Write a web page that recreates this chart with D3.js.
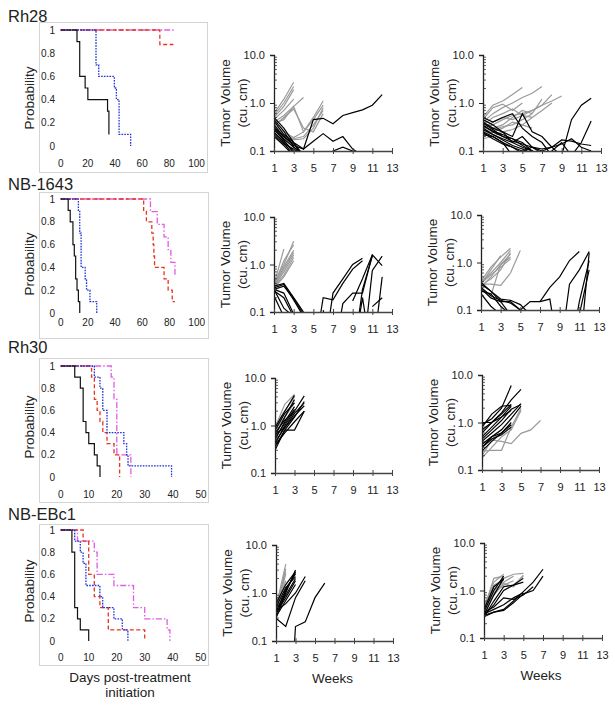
<!DOCTYPE html>
<html><head><meta charset="utf-8">
<script src="https://cdn.jsdelivr.net/npm/d3@7/dist/d3.min.js"></script>
<style>
body{margin:0;background:#fff}
text{font-family:"Liberation Sans",Arial,sans-serif;fill:#222}
</style>
</head><body>
<svg id="c" width="615" height="705"></svg>
<script>
// ---------------- DATA ----------------
// Kaplan-Meier step curves: [day, probability]
const km_rh28_magenta = [[0,1],[84,1]];
const km_rh28_red     = [[0,1],[73,0.875],[83,0.875]];
const km_rh28_blue    = [[0,1],[26,0.7],[28,0.6],[39.5,0.5],[41,0.4],[43,0.1],[51.5,0]];
const km_rh28_black   = [[0,1],[12,0.9],[14,0.6],[18,0.5],[20,0.4],[34.5,0.3],[35.5,0.1]];

const km_nb1643_magenta = [[0,1],[66,0.889],[71,0.778],[76,0.667],[79,0.556],[81,0.444],[84,0.333]];
const km_nb1643_red     = [[0,1],[61,0.9],[63,0.8],[67,0.7],[68,0.6],[68.5,0.5],[69,0.4],[76,0.3],[79,0.2],[82,0.1],[84,0.1]];
const km_nb1643_blue    = [[0,1],[13,0.9],[14,0.7],[15,0.4],[18,0.3],[19,0.2],[21.5,0.1],[26.5,0]];
const km_nb1643_black   = [[0,1],[5.5,0.9],[7,0.8],[9,0.6],[10,0.5],[11,0.3],[12,0.2],[13,0.1],[14,0]];

const km_rh30_magenta = [[0,1],[18,0.9],[19,0.7],[20,0.2],[25,0]];
const km_rh30_red     = [[0,1],[11,0.9],[12,0.7],[13,0.6],[14,0.5],[15,0.4],[16.5,0.3],[19,0.2],[21,0.1],[21,0]];
const km_rh30_blue    = [[0,1],[12,0.9],[14,0.8],[15,0.6],[16.5,0.4],[22.5,0.3],[23.5,0.2],[24,0.1],[39.5,0]];
const km_rh30_black   = [[0,1],[5,0.9],[7,0.8],[8,0.5],[9,0.4],[10,0.3],[12,0.2],[13,0.1],[14,0]];

const km_ebc1_magenta = [[0,1],[6,0.9],[12,0.8],[13,0.6],[19,0.5],[26,0.3],[30,0.2],[38,0.1],[39,0]];
const km_ebc1_red     = [[0,1],[8,0.9],[10,0.6],[12,0.4],[14,0.3],[17,0.1],[30,0]];
const km_ebc1_blue    = [[0,1],[5,0.9],[7,0.8],[8,0.7],[9,0.5],[14,0.4],[15,0.3],[19,0.2],[22,0.1],[24,0]];
const km_ebc1_black   = [[0,1],[4,0.8],[5,0.3],[6,0.2],[7,0.1],[10,0]];

const kmXTicks100 = [0,20,40,60,80,100];
const kmXTicks50  = [0,10,20,30,40,50];
const kmYTicks    = [0,0.2,0.4,0.6,0.8,1];

// Tumor volume (cu. cm) by week, starting at week 1 (null = no measurement)
const weekTicks = [1,3,5,7,9,11,13];
const volTicks  = [0.1,1,10];

const rh28_a_gray = [
 [0.6,1.2,2.7],[0.55,1.0,2.2],[0.5,0.85,1.9],[0.45,0.7,1.2],[0.4,0.55,0.85,1.3],
 [0.38,0.45,0.85,0.25,0.45,0.9],[0.3,0.22,0.18,0.2,0.35,0.7],[0.35,0.25,0.19,0.25,0.5,1.1],
 [0.28,0.2,0.17,0.18,0.3,0.8],[0.33,0.5,0.75,0.3,0.25,0.6]];
const rh28_a_black = [
 [0.5,0.3,0.15,0.08],[0.42,0.22,0.15,0.11,0.45,0.48,0.37,0.55,0.63,0.72,0.9,1.5],
 [0.35,0.2,0.14,0.08],[0.3,0.18,0.12,0.09],[0.28,0.17,0.09],[0.25,0.15,0.08],
 [0.22,0.14,0.11,0.08],[0.2,0.13,0.08],[0.32,0.2,0.13,0.11,0.16,0.23,0.16,0.2,0.11,0.08],
 [0.24,0.16,0.1,0.06,0.06,0.06,0.1,0.12,0.1],[0.45,0.26,0.12,0.08]];

const rh28_b_gray = [
 [0.5,0.9,1.1,1.5,2.1],[0.4,0.6,0.8,1.0,1.3,1.6,2.2],[0.3,0.35,0.45,0.55,0.6,0.7,0.9,1.1,1.4],
 [0.3,0.4,0.5,0.45,0.55,0.7,0.9,1.5],[0.25,0.3,0.35,0.5,0.7,0.6,1.2],[0.35,0.5,0.6,0.75,0.55,0.5],
 [0.2,0.25,0.3,0.4,0.35,0.5,0.7,1.0],[0.22,0.28,0.32,0.35,0.45,0.6],[0.18,0.2,0.25,0.28,0.35,0.3],
 [0.45,0.8,0.95,0.7,1.0]];
const rh28_b_black = [
 [0.5,0.4,0.5,0.6,0.3,0.2,0.15,0.08],[0.45,0.35,0.25,0.2,0.6,0.25,0.2,0.12,0.08],
 [0.4,0.3,0.25,0.15,0.2,0.12,0.09],[0.35,0.25,0.2,0.18,0.15,0.1,0.08],
 [0.3,0.22,0.18,0.15,0.12,0.1,0.08],[0.25,0.2,0.15,0.12,0.09],[0.22,0.2,0.15,0.08],
 [0.38,0.28,0.2,0.16,0.14,0.12,0.11,0.12,0.17,0.16,0.14,0.13],
 [0.33,0.26,0.22,0.18,0.13,0.1,0.08,0.08,0.08,0.45,0.9,1.25],
 [0.28,0.22,0.17,0.13,0.11,0.09,0.08,0.1,0.15,0.08,0.15,0.42],
 [0.24,0.18,0.14,0.12,0.1,0.12,0.1,0.12,0.14,0.18,0.12,0.1]];

const nb1643_a_gray = [
 [0.4,1.0,3.1],[0.38,2.1],[0.36,0.9,2.0],[0.35,0.8,1.8],[0.34,0.7,1.6],
 [0.33,0.6,1.4],[0.32,0.55,1.2],[0.37,1.2,2.6]];
const nb1643_a_black = [
 [0.35,0.4,0.2,0.1],[0.32,0.38,0.18,0.08],[0.3,0.35,0.19,0.09],[0.3,0.25,0.09],
 [0.28,0.2,0.08],[0.22,0.08],[0.3,0.12,0.08],
 [null,null,null,null,0.01,0.2,0.18,0.4,0.8,1.2],
 [null,null,null,null,null,0.01,0.25,0.5,1.0,1.35],
 [null,null,null,null,null,0.11,0.01,0.15,0.25,0.25,1.6],
 [null,null,null,null,null,null,null,null,0.01,0.3,1.5],
 [null,null,null,null,null,null,null,null,0.17,0.5,1.6,0.95],
 [null,null,null,null,null,null,null,null,null,0.01,0.75,1.5],
 [null,null,null,null,null,null,null,null,null,null,0.01,0.55],
 [null,null,null,null,null,null,null,null,null,null,0.13,0.2],
 [null,null,null,null,null,null,null,null,0.01,0.2,0.01]];

const nb1643_b_gray = [
 [0.4,0.8,1.3,2.0],[0.35,0.7,1.4],[0.38,0.6,1.0,1.8],[0.3,0.5,0.9,1.5],
 [0.35,0.35,0.33,0.6,1.8],[0.36,0.55,0.8,1.2],[0.33,0.45,0.7,1.6],[0.3,0.2,0.9,1.3]];
const nb1643_b_black = [
 [0.35,0.25,0.15,0.15,0.1],[0.3,0.2,0.16,0.14,0.1],[0.28,0.18,0.15,0.08],[0.25,0.22,0.12,0.08],
 [0.22,0.12,0.08],[0.38,0.25,0.17,0.16,0.13,0.08],
 [null,null,null,null,0.1,0.15,0.15,0.17,0.01],
 [null,null,null,null,null,null,0.15,0.3,0.5,1.1,1.7],
 [null,null,null,null,null,null,null,null,0.01,0.35,0.7,1.7],
 [null,null,null,null,null,null,null,null,null,0.01,0.15,1.1],
 [null,null,null,null,null,null,null,null,null,null,0.08,0.7],
 [null,null,null,null,null,null,null,null,null,null,0.01,1.6]];

const rh30_a_gray = [[0.9,2.8,4.5],[1.0,2.0,4.0],[0.8,1.5,3.0]];
const rh30_a_black = [
 [0.3,0.8,1.5,3.2],[0.35,0.8,0.8,2.0],[0.4,1.0,2.0,4.2],[0.5,1.2,2.5],[0.6,1.5,3.5],
 [0.7,1.3,2.0],[0.45,0.9,1.8,3.0],[0.55,1.1,2.2],[0.8,1.8,3.0],[0.65,0.9,1.6,2.6],
 [0.38,0.7,1.2,2.0],[0.9,2.0,4.3]];

const rh30_b_gray = [
 [0.2,0.43,0.4,0.36,0.59,0.7,1.1],[0.25,0.26,0.26,0.8,2.0],[0.18,0.3,0.5,0.7,1.8],
 [0.3,0.45,0.6,0.9],[0.35,0.5,0.7,1.2]];
const rh30_b_black = [
 [1.0,1.0,1.5,2.4],[0.9,1.2,2.0,6.0],[0.6,1.0,1.6,3.0,5.0],[0.5,0.8,1.3,2.2],
 [0.4,0.6,0.9,1.5,2.5],[0.35,0.5,0.7,1.2,2.2],[0.3,0.5,0.6,0.9],[0.25,0.4,0.6,1.0],
 [0.8,1.5,2.2,2.3],[0.7,1.0,1.3,1.8],[0.45,0.7,1.1,1.9,2.4],[0.3,0.45,0.55,0.8]];

const ebc1_a_gray = [[0.5,4.0],[0.45,3.2],[0.4,2.5],[0.5,1.8],[0.55,2.8]];
const ebc1_a_black = [
 [0.3,1.0,3.0],[0.35,1.1,2.7],[0.4,1.2,2.5],[0.45,0.9,2.0],[0.5,1.3,2.2],[0.38,0.8,1.8],
 [0.32,0.7,1.5],[0.6,1.5,2.8],[0.3,0.2,0.8,1.8],[0.42,0.6,1.0,2.2],
 [null,0.0001,0.2,0.25,0.8,1.6]];

const ebc1_b_gray = [
 [0.4,1.8,2.0],[0.45,1.5,2.2],[0.35,1.2,1.8,2.2,2.3],[0.5,1.0,1.5,2.0],[0.3,0.9,1.3,1.6],
 [0.4,1.1,1.2,1.3,2.0],[0.45,0.8,1.4,1.2,2.1],[0.38,1.3,1.7]];
const ebc1_b_black = [
 [0.3,0.8,1.8],[0.35,1.0,2.0],[0.4,1.2,1.7],[0.28,0.6,1.2,1.3,1.5],[0.3,0.5,1.0,1.3,1.8],
 [0.28,0.35,0.4,0.6,0.95,1.5,2.8],[0.3,0.35,0.38,0.55,0.85,1.0,2.0],
 [0.35,0.45,0.7,0.65,0.8,1.2],[0.32,0.4,0.5,0.7,0.9]];

// ---------------- DRAWING ----------------
const svg = d3.select("#c");
const kmStyle = {
  magenta:{stroke:"#e35be3", dash:"6,2,1.5,2", w:1.3},
  red:{stroke:"#e8341f", dash:"4,2.5", w:1.3},
  blue:{stroke:"#1f33d9", dash:"1.6,1.2", w:1.3},
  black:{stroke:"#111", dash:null, w:1.2}
};

const kmPanels = [
  {title:"Rh28", titleY:22, box:[39,22,207,172], xr:[60.7,196.5], yr:[30,146], xmax:100, xticks:kmXTicks100, labY:163, probY:98,
   curves:{magenta:km_rh28_magenta, red:km_rh28_red, blue:km_rh28_blue, black:km_rh28_black}},
  {title:"NB-1643", titleY:190, box:[39,192,208,338], xr:[60.7,196.7], yr:[199,313], xmax:100, xticks:kmXTicks100, labY:322, probY:264,
   curves:{magenta:km_nb1643_magenta, red:km_nb1643_red, blue:km_nb1643_blue, black:km_nb1643_black}},
  {title:"Rh30", titleY:353, box:[39,358,208,502], xr:[60.7,201], yr:[366,477], xmax:50, xticks:kmXTicks50, labY:494, probY:427,
   curves:{magenta:km_rh30_magenta, red:km_rh30_red, blue:km_rh30_blue, black:km_rh30_black}},
  {title:"NB-EBc1", titleY:520, box:[39,524,208,665], xr:[60.7,200.7], yr:[530,641], xmax:50, xticks:kmXTicks50, labY:657, probY:591,
   curves:{magenta:km_ebc1_magenta, red:km_ebc1_red, blue:km_ebc1_blue, black:km_ebc1_black}}
];

kmPanels.forEach(p => {
  const g = svg.append("g");
  g.append("rect").attr("x",p.box[0]+0.5).attr("y",p.box[1]+0.5)
    .attr("width",p.box[2]-p.box[0]).attr("height",p.box[3]-p.box[1])
    .attr("fill","none").attr("stroke","#d4d4d4").attr("stroke-width",1);
  g.append("text").attr("x",8).attr("y",p.titleY).attr("font-size",16.5).text(p.title);
  const x = d3.scaleLinear().domain([0,p.xmax]).range(p.xr);
  const y = d3.scaleLinear().domain([0,1]).range([p.yr[1],p.yr[0]]);
  g.selectAll(".yt").data(kmYTicks).enter().append("text")
    .attr("x",55).attr("y",d=>y(d)).attr("dy","0.35em").attr("text-anchor","end")
    .attr("font-size",10).text(d=>d3.format("")(d));
  g.selectAll(".xt").data(p.xticks).enter().append("text")
    .attr("x",d=>x(d)).attr("y",p.labY).attr("dy","0.35em").attr("text-anchor","middle")
    .attr("font-size",10).text(d=>d);
  g.append("text").attr("transform",`translate(29,${p.probY}) rotate(-90)`)
    .attr("text-anchor","middle").attr("dy","0.35em").attr("font-size",13.5).text("Probability");
  const line = d3.line().x(d=>x(d[0])).y(d=>y(d[1])).curve(d3.curveStepAfter);
  ["magenta","red","blue","black"].forEach(k => {
    const s = kmStyle[k];
    g.append("path").attr("d",line(p.curves[k])).attr("fill","none")
      .attr("stroke",s.stroke).attr("stroke-width",s.w)
      .attr("stroke-dasharray",s.dash);
  });
});

svg.append("text").attr("x",130).attr("y",677).attr("dy","0.35em").attr("text-anchor","middle")
  .attr("font-size",13.5).text("Days post-treatment");
svg.append("text").attr("x",130).attr("y",692).attr("dy","0.35em").attr("text-anchor","middle")
  .attr("font-size",13.5).text("initiation");

const volPanels = [
  {x:[274,392], y:[151,55],  gray:rh28_a_gray,   black:rh28_a_black},
  {x:[483,601], y:[151,55],  gray:rh28_b_gray,   black:rh28_b_black},
  {x:[274,392], y:[312,217], gray:nb1643_a_gray, black:nb1643_a_black},
  {x:[481,599], y:[310,215], gray:nb1643_b_gray, black:nb1643_b_black},
  {x:[275,392], y:[473,378], gray:rh30_a_gray,   black:rh30_a_black},
  {x:[482,599], y:[470,375], gray:rh30_b_gray,   black:rh30_b_black},
  {x:[276,393], y:[641,545], gray:ebc1_a_gray,   black:ebc1_a_black, weeks:true},
  {x:[484,602], y:[638,543], gray:ebc1_b_gray,   black:ebc1_b_black, weeks:true}
];

const minorTicks = [0.2,0.3,0.4,0.5,0.6,0.7,0.8,0.9,2,3,4,5,6,7,8,9];

volPanels.forEach((p,i) => {
  const g = svg.append("g");
  const x = d3.scaleLinear().domain([1,13]).range(p.x);
  const y = d3.scaleLog().domain([0.1,10]).range(p.y);
  const cid = "clip"+i;
  g.append("clipPath").attr("id",cid).append("rect")
    .attr("x",p.x[0]).attr("y",p.y[1]-5).attr("width",p.x[1]-p.x[0]+5).attr("height",p.y[0]-p.y[1]+5);
  const line = d3.line().defined(d=>d[1]!=null).x(d=>x(d[0])).y(d=>y(d[1]));
  const lg = g.append("g").attr("clip-path",`url(#${cid})`);
  const toPts = v => v.map((val,j)=>[j+1,val]);
  p.gray.forEach(s => lg.append("path").attr("d",line(toPts(s))).attr("fill","none")
    .attr("stroke","#9a9a9a").attr("stroke-width",1.2));
  p.black.forEach(s => lg.append("path").attr("d",line(toPts(s))).attr("fill","none")
    .attr("stroke","#000").attr("stroke-width",1.2));

  // y axis
  const ya = g.append("g").attr("transform",`translate(${p.x[0]},0)`)
    .call(d3.axisLeft(y).tickValues(volTicks).tickFormat(d3.format(".1f")).tickSize(4).tickPadding(5));
  ya.selectAll("text").attr("font-size",11).attr("fill","#222").attr("font-family","Liberation Sans, Arial, sans-serif");
  ya.select(".domain").attr("stroke","#222").attr("stroke-width",1.3);
  ya.selectAll(".tick line").attr("stroke","#222");
  g.selectAll(".mt").data(minorTicks).enter().append("line")
    .attr("x1",p.x[0]).attr("x2",p.x[0]+3).attr("y1",d=>y(d)).attr("y2",d=>y(d))
    .attr("stroke","#333").attr("stroke-width",0.8);
  // x axis
  const xa = g.append("g").attr("transform",`translate(0,${p.y[0]})`)
    .call(d3.axisBottom(x).tickValues(weekTicks).tickSize(3).tickPadding(10.5).tickSizeOuter(0));
  xa.selectAll("text").attr("font-size",11).attr("fill","#222").attr("font-family","Liberation Sans, Arial, sans-serif");
  xa.select(".domain").attr("stroke","#444").attr("stroke-width",1.6);
  xa.selectAll(".tick line").attr("stroke","#444").attr("y1",-3);

  const yc = y(1);
  g.append("text").attr("transform",`translate(${p.x[0]-49},${yc}) rotate(-90)`)
    .attr("text-anchor","middle").attr("dy","0.35em").attr("font-size",13.5).text("Tumor Volume");
  g.append("text").attr("transform",`translate(${p.x[0]-31.5},${yc}) rotate(-90)`)
    .attr("text-anchor","middle").attr("dy","0.35em").attr("font-size",13.5).text("(cu. cm)");
  if (p.weeks) {
    g.append("text").attr("x",(p.x[0]+p.x[1])/2 - 2).attr("y",p.y[0]+37).attr("dy","0.35em")
      .attr("text-anchor","middle").attr("font-size",13.5).text("Weeks");
  }
});
</script>
</body></html>
